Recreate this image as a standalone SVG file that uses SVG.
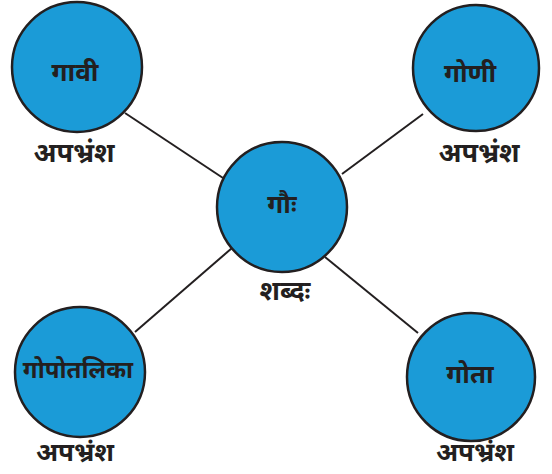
<svg xmlns="http://www.w3.org/2000/svg" width="552" height="474" viewBox="0 0 552 474">
<style>
.node circle{fill:#1b9bd7;stroke:#231f20;stroke-width:2.5}
.t{font-family:"Noto Sans Devanagari","Noto Sans",sans-serif;font-weight:bold;fill:#231f20;text-anchor:middle}
.in{font-size:26px}
.lb{font-size:27px}
.lbb{font-size:26px}
#edges line{stroke:#231f20;stroke-width:2}
</style>
<rect width="552" height="474" fill="#ffffff"/>
<g id="edges">
<line x1="125" y1="113" x2="223" y2="178"/>
<line x1="423" y1="114" x2="342" y2="174"/>
<line x1="135" y1="332" x2="232" y2="248"/>
<line x1="418" y1="333" x2="325" y2="257"/>
</g>
<g id="node-gau" class="node">
<circle cx="282" cy="207" r="65"/>
<text class="t in" x="282" y="213">गौः</text>
<text class="t lb" x="285" y="300">शब्दः</text>
</g>
<g id="node-gavi" class="node">
<circle cx="77" cy="67" r="65"/>
<text class="t in" x="75" y="81">गावी</text>
<text class="t lb" x="74" y="162">अपभ्रंश</text>
</g>
<g id="node-goni" class="node">
<circle cx="476" cy="68" r="63"/>
<text class="t in" x="470" y="82">गोणी</text>
<text class="t lb" x="479" y="162">अपभ्रंश</text>
</g>
<g id="node-gopotalika" class="node">
<circle cx="80" cy="372" r="65"/>
<text class="t in" x="78" y="378" style="font-size:24px">गोपोतलिका</text>
<text class="t lbb" x="75" y="461">अपभ्रंश</text>
</g>
<g id="node-gota" class="node">
<circle cx="471" cy="377" r="64"/>
<text class="t in" x="470" y="383">गोता</text>
<text class="t lbb" x="475" y="461">अपभ्रंश</text>
</g>
</svg>
